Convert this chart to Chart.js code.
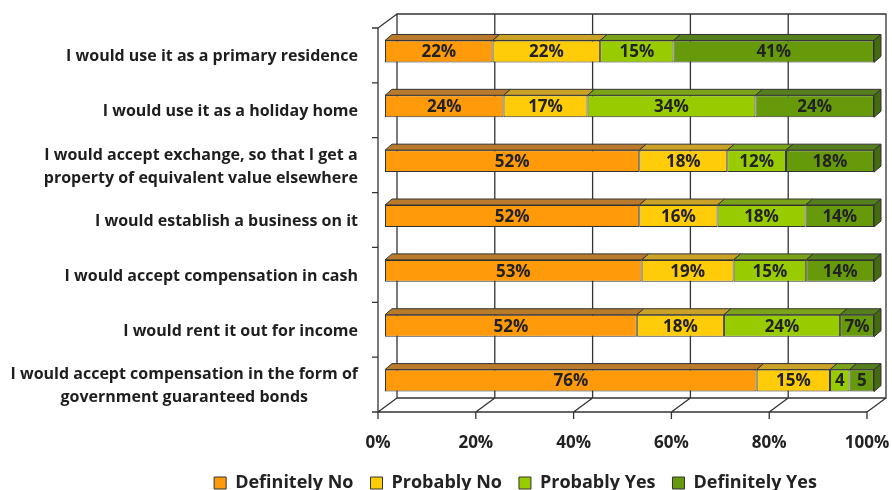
<!DOCTYPE html>
<html>
<head>
<meta charset="utf-8">
<script src="https://cdn.jsdelivr.net/npm/chart.js@4/dist/chart.umd.min.js"></script>
<style>
  html, body { margin: 0; padding: 0; background: #fff; overflow: hidden; }
  #wrap { width: 892px; height: 502px; position: relative; }
</style>
</head>
<body>
<div id="wrap"><canvas id="surveyChart"></canvas></div>
<script>
// answers, top row first
var categories = [
    ['I would use it as a primary residence'],
    ['I would use it as a holiday home'],
    ['I would accept exchange, so that I get a', 'property of equivalent value elsewhere'],
    ['I would establish a business on it'],
    ['I would accept compensation in cash'],
    ['I would rent it out for income'],
    ['I would accept compensation in the form of', 'government guaranteed bonds']
];
var seriesNames = ['Definitely No', 'Probably No', 'Probably Yes', 'Definitely Yes'];
var definitelyNo  = [22, 24, 52, 52, 53, 52, 76];
var probablyNo    = [22, 17, 18, 16, 19, 18, 15];
var probablyYes   = [15, 34, 12, 18, 15, 24, 4];
var definitelyYes = [41, 24, 18, 14, 14, 7, 5];
var xTicks = [0, 20, 40, 60, 80, 100];

var faceColors = ['#FF9A0A', '#FFCC0A', '#99CC00', '#669A0A'];
var topColors  = ['#B97A2C', '#C9A226', '#7AA318', '#557E1C'];
var endColor = '#436B10';

var series = [definitelyNo, probablyNo, probablyYes, definitelyYes];

// 100% stacked: each row is scaled to its own total
var totals = categories.map(function (c, j) {
    return series.reduce(function (s, arr) { return s + arr[j]; }, 0);
});

// fake depth of the excel 3d chart
var DX = 19, DY = -14;          // back wall offset
var BX = 7, BY = -4;            // bar front face offset
var BDX = 7, BDY = -6;          // bar depth
var LINE = '#333';
var FONT = '"Open Sans", Lato, sans-serif';
var LEGEND_SHIFT = 82;

var fake3d = {
    id: 'fake3d',
    afterLayout: function (chart) {
        // excel centres the legend a bit right of the canvas centre
        chart.legend.left += LEGEND_SHIFT;
        chart.legend.right += LEGEND_SHIFT;
    },
    beforeDatasetsDraw: function (chart) {
        var ctx = chart.ctx, a = chart.chartArea, x = chart.scales.x;
        ctx.save();
        ctx.strokeStyle = LINE;
        ctx.lineWidth = 1.3;
        ctx.beginPath();
        // back wall + grid
        ctx.rect(a.left + DX, a.top + DY, a.right - a.left, a.bottom - a.top);
        xTicks.forEach(function (v) {
            var px = x.getPixelForValue(v);
            ctx.moveTo(px + DX, a.top + DY);
            ctx.lineTo(px + DX, a.bottom + DY);
            // floor lines
            ctx.moveTo(px, a.bottom);
            ctx.lineTo(px + DX, a.bottom + DY);
            // front ticks
            ctx.moveTo(px, a.bottom);
            ctx.lineTo(px, a.bottom + 7);
        });
        // front axis + left wall
        ctx.moveTo(a.left, a.bottom);
        ctx.lineTo(a.right, a.bottom);
        ctx.moveTo(a.left, a.bottom);
        ctx.lineTo(a.left, a.top);
        ctx.lineTo(a.left + DX, a.top + DY);
        var band = (a.bottom - a.top) / categories.length;
        for (var k = 0; k <= categories.length; k++) {
            ctx.moveTo(a.left - 6, a.top + k * band);
            ctx.lineTo(a.left, a.top + k * band);
        }
        ctx.stroke();

        // category labels: block right aligned, lines centred
        ctx.fillStyle = '#1e1e1e';
        ctx.font = 'bold 16px ' + FONT;
        ctx.textAlign = 'center';
        ctx.textBaseline = 'middle';
        var y = chart.scales.y;
        categories.forEach(function (lines, j) {
            var w = Math.max.apply(null, lines.map(function (l) { return ctx.measureText(l).width; }));
            var cx = a.left - 20 - w / 2;
            var cy = y.getPixelForValue(j) + 1.5;
            var lh = 23;
            lines.forEach(function (l, i) {
                ctx.fillText(l, cx, cy + (i - (lines.length - 1) / 2) * lh);
            });
        });
        ctx.restore();

        ctx.save();
        ctx.translate(BX, BY);
    },
    afterDatasetsDraw: function (chart) {
        var ctx = chart.ctx;
        ctx.strokeStyle = LINE;
        ctx.lineWidth = 1;
        series.forEach(function (arr, i) {
            var meta = chart.getDatasetMeta(i);
            meta.data.forEach(function (el) {
                var top = el.y - el.height / 2, bot = el.y + el.height / 2;
                ctx.beginPath();
                ctx.moveTo(el.base, top);
                ctx.lineTo(el.x, top);
                ctx.lineTo(el.x + BDX, top + BDY);
                ctx.lineTo(el.base + BDX, top + BDY);
                ctx.closePath();
                ctx.fillStyle = topColors[i];
                ctx.fill();
                ctx.stroke();
                if (i === series.length - 1) {
                    ctx.beginPath();
                    ctx.moveTo(el.x, top);
                    ctx.lineTo(el.x + BDX, top + BDY);
                    ctx.lineTo(el.x + BDX, bot + BDY);
                    ctx.lineTo(el.x, bot);
                    ctx.closePath();
                    ctx.fillStyle = endColor;
                    ctx.fill();
                    ctx.stroke();
                }
            });
        });
        // value labels
        ctx.fillStyle = '#222';
        ctx.font = 'bold 17px ' + FONT;
        ctx.textAlign = 'center';
        ctx.textBaseline = 'middle';
        series.forEach(function (arr, i) {
            chart.getDatasetMeta(i).data.forEach(function (el, j) {
                var v = arr[j];
                ctx.fillText(v + (v >= 6 ? '%' : ''), (el.x + el.base) / 2, el.y + 1);
            });
        });
        ctx.restore();
    }
};

var ctx = document.getElementById('surveyChart').getContext('2d');
new Chart(ctx, {
    type: 'bar',
    data: {
        labels: categories,
        datasets: series.map(function (arr, i) {
            return {
                label: seriesNames[i],
                data: arr.map(function (v, j) { return v / totals[j] * 100; }),
                backgroundColor: faceColors[i],
                borderColor: LINE,
                borderWidth: 1,
                borderSkipped: false,
                categoryPercentage: 1,
                barPercentage: 0.4,
                clip: false
            };
        })
    },
    options: {
        indexAxis: 'y',
        responsive: true,
        maintainAspectRatio: false,
        animation: false,
        layout: { padding: { top: 28, right: 25, left: 0, bottom: 0 } },
        scales: {
            x: {
                stacked: true,
                min: 0,
                max: 100,
                afterFit: function (scale) {
                    scale.height = 45;
                    scale.paddingLeft = 0;
                    scale.paddingRight = 0;
                },
                afterBuildTicks: function (scale) {
                    scale.ticks = xTicks.map(function (v) { return { value: v }; });
                },
                grid: { display: false, drawTicks: false },
                border: { display: false },
                ticks: {
                    padding: 21,
                    color: '#222',
                    font: { family: FONT, size: 17, weight: 'bold' },
                    callback: function (v) { return v + '%'; }
                }
            },
            y: {
                stacked: true,
                afterFit: function (scale) { scale.width = 378; },
                grid: { display: false, drawTicks: false },
                border: { display: false },
                ticks: { display: false }
            }
        },
        plugins: {
            tooltip: { enabled: false },
            legend: {
                position: 'bottom',
                labels: {
                    boxWidth: 12,
                    boxHeight: 12,
                    padding: 17,
                    color: '#222',
                    font: { family: FONT, size: 18, weight: 'bold' }
                }
            }
        }
    },
    plugins: [fake3d]
});
</script>
</body>
</html>
